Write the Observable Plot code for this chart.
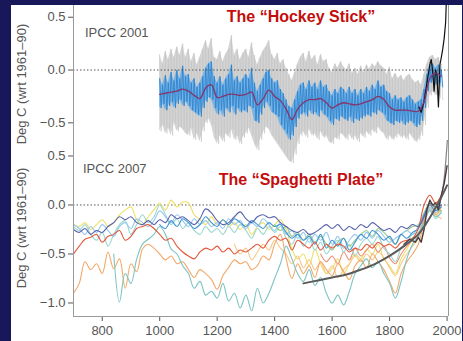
<!DOCTYPE html>
<html><head><meta charset="utf-8">
<script src="https://cdn.jsdelivr.net/npm/d3@7"></script>
<script src="https://cdn.jsdelivr.net/npm/@observablehq/plot@0.6"></script>
<style>
body{margin:0;background:#171759;}
#wrap{position:relative;width:463px;height:341px;overflow:hidden;background:#171759;font-family:"Liberation Sans",Arial,sans-serif;}
#panel{position:absolute;left:11px;top:5px;width:451px;height:336px;background:#fff;}
#bot{position:absolute;left:0;top:140px;}
#top{position:absolute;left:0;top:5px;}
.t{position:absolute;white-space:nowrap;}
.title{font-weight:bold;font-size:16px;color:#c40d0d;transform:translate(-50%,-50%);}
.ipcc{font-size:13px;color:#555;transform:translateY(-50%);}
.ylab{font-size:13px;color:#555;transform:translate(-50%,-50%) rotate(-90deg);}
</style></head>
<body>
<div id="wrap">
  <div id="panel"></div>
  <div id="bot"></div>
  <div id="top"></div>
  <div class="t title" style="left:301px;top:17px;">The “Hockey Stick”</div>
  <div class="t title" style="left:301px;top:180px;">The “Spaghetti Plate”</div>
  <div class="t ipcc" style="left:85px;top:32px;">IPCC 2001</div>
  <div class="t ipcc" style="left:83px;top:168px;">IPCC 2007</div>
  <div class="t ylab" style="left:21px;top:84px;">Deg C (wrt 1961–90)</div>
  <div class="t ylab" style="left:21px;top:228px;">Deg C (wrt 1961–90)</div>
</div>
<script>
// ---------- axis ticks ----------
const xTicks = [800, 1000, 1200, 1400, 1600, 1800, 2000];
const yTicksTop = [0.5, 0, -0.5];
const yTicksBottom = [0.5, 0, -0.5, -1.0];
const xDomain = [700, 2005];
const yDomainTop = [-0.904, 0.611];
const yDomainBottom = [-1.138, 0.658];

// ---------- IPCC 2001 (hockey stick), decadal 1000-1980 ----------
const hsYears = d3.range(1000, 1981, 10);
const grayHi = [0.15,0.06,0.18,0.10,0.20,0.12,0.22,0.14,0.25,0.12,
 0.20,0.08,0.16,0.05,0.12,0.20,0.28,0.20,0.30,0.12,
 0.10,0.18,0.08,0.15,0.20,0.33,0.14,0.20,0.10,0.16,
 0.20,0.12,0.26,0.14,0.05,0.12,0.18,0.22,0.28,0.15,
 0.10,0.16,0.06,0.10,0.02,-0.04,-0.10,-0.02,0.06,0.12,
 0.16,0.08,0.18,0.10,0.14,0.05,0.15,0.08,0.10,0.02,
 -0.02,0.06,0.02,0.08,0.03,0.0,0.06,-0.03,0.02,-0.04,
 0.04,-0.02,0.05,0.01,0.06,0.03,0.08,0.04,0.02,-0.04,
 0.03,-0.08,-0.03,-0.08,-0.05,-0.10,-0.06,-0.04,-0.09,-0.12,
 -0.10,-0.14,-0.04,0.06,0.12,0.14,0.10,0.12,0.06];
const grayLo = [-0.58,-0.52,-0.60,-0.55,-0.62,-0.50,-0.58,-0.54,-0.56,-0.60,
 -0.62,-0.55,-0.66,-0.60,-0.68,-0.58,-0.50,-0.46,-0.52,-0.64,
 -0.70,-0.62,-0.68,-0.60,-0.64,-0.56,-0.66,-0.62,-0.70,-0.64,
 -0.60,-0.55,-0.62,-0.70,-0.76,-0.66,-0.60,-0.54,-0.56,-0.62,
 -0.66,-0.70,-0.74,-0.78,-0.82,-0.86,-0.88,-0.80,-0.70,-0.62,
 -0.58,-0.64,-0.56,-0.62,-0.60,-0.66,-0.58,-0.64,-0.62,-0.68,
 -0.70,-0.64,-0.66,-0.60,-0.62,-0.66,-0.60,-0.66,-0.62,-0.68,
 -0.60,-0.64,-0.58,-0.62,-0.56,-0.60,-0.54,-0.58,-0.60,-0.66,
 -0.62,-0.66,-0.64,-0.60,-0.64,-0.62,-0.66,-0.60,-0.64,-0.68,
 -0.66,-0.62,-0.52,-0.36,-0.24,-0.20,-0.24,-0.22,-0.28];
const blueHi = [-0.08,-0.14,-0.05,-0.12,-0.02,-0.10,0.0,-0.08,0.04,-0.06,
 -0.04,-0.12,-0.08,-0.16,-0.12,-0.06,0.02,0.06,0.08,-0.06,
 -0.12,-0.06,-0.14,-0.08,-0.04,0.05,-0.10,-0.06,-0.12,-0.08,
 -0.04,-0.08,0.02,-0.12,-0.20,-0.14,-0.08,-0.02,0.0,-0.08,
 -0.12,-0.10,-0.18,-0.22,-0.28,-0.34,-0.36,-0.28,-0.20,-0.14,
 -0.12,-0.18,-0.10,-0.16,-0.12,-0.18,-0.10,-0.16,-0.14,-0.20,
 -0.24,-0.18,-0.22,-0.16,-0.18,-0.22,-0.16,-0.22,-0.18,-0.24,
 -0.18,-0.22,-0.16,-0.20,-0.14,-0.18,-0.10,-0.16,-0.14,-0.20,
 -0.22,-0.28,-0.24,-0.28,-0.26,-0.30,-0.26,-0.24,-0.28,-0.32,
 -0.30,-0.28,-0.18,-0.04,0.04,0.06,0.02,0.05,0.0];
const blueLo = [-0.36,-0.32,-0.38,-0.34,-0.30,-0.36,-0.32,-0.28,-0.34,-0.30,
 -0.34,-0.38,-0.40,-0.42,-0.44,-0.36,-0.30,-0.26,-0.28,-0.36,
 -0.42,-0.38,-0.44,-0.36,-0.40,-0.34,-0.42,-0.36,-0.40,-0.38,
 -0.40,-0.34,-0.36,-0.48,-0.50,-0.42,-0.36,-0.30,-0.34,-0.40,
 -0.42,-0.44,-0.52,-0.56,-0.60,-0.66,-0.62,-0.54,-0.46,-0.42,
 -0.40,-0.44,-0.38,-0.42,-0.40,-0.44,-0.38,-0.42,-0.44,-0.48,
 -0.52,-0.46,-0.48,-0.44,-0.46,-0.48,-0.44,-0.50,-0.46,-0.48,
 -0.46,-0.44,-0.42,-0.44,-0.40,-0.42,-0.38,-0.40,-0.42,-0.48,
 -0.50,-0.52,-0.48,-0.50,-0.48,-0.52,-0.50,-0.48,-0.50,-0.54,
 -0.52,-0.48,-0.36,-0.20,-0.12,-0.10,-0.14,-0.12,-0.16];
const smoothYears = d3.range(1000, 1981, 20);
const smoothVals = [-0.23,-0.22,-0.21,-0.20,-0.18,-0.20,-0.24,-0.27,-0.17,-0.14,
 -0.26,-0.25,-0.23,-0.23,-0.24,-0.23,-0.21,-0.33,-0.27,-0.19,
 -0.25,-0.29,-0.37,-0.47,-0.37,-0.31,-0.28,-0.28,-0.27,-0.31,
 -0.36,-0.33,-0.31,-0.32,-0.33,-0.32,-0.30,-0.28,-0.25,-0.28,
 -0.35,-0.38,-0.38,-0.38,-0.39,-0.39,-0.30,-0.08,-0.03,-0.06];
const instTopYears = [1902,1910,1920,1930,1940,1945,1950,1955,1960,1965,1970,1975,1980,1985,1990,1995,1998];
const instTopVals = [-0.35,-0.40,-0.30,-0.12,0.05,0.10,-0.02,-0.20,0.0,-0.05,-0.35,0.05,0.12,0.20,0.30,0.45,0.70];

// ---------- IPCC 2007 (spaghetti), 20-year steps ----------
const spaghettiNames = ["yellow","peach","orange","salmon","lightTeal","teal","green","lightBlue","blue","red","darkBlue"];
const spaghettiColors = ["#efdf66","#f6c888","#f2a868","#ee9077","#9ad8d0","#7cc4c2","#94c98a","#98c8ec","#3f95d8","#e2583a","#5662aa"];
const spaghettiStarts = [700,1260,700,1560,700,840,1400,700,1000,700,700];
const yellow = [-0.20,-0.22,-0.18,-0.25,-0.20,-0.15,-0.22,-0.18,-0.10,-0.05,
 -0.02,-0.15,-0.20,-0.12,-0.05,0.02,-0.05,0.05,-0.02,0.03,
 0.02,-0.10,-0.15,-0.20,-0.12,-0.20,-0.15,-0.22,-0.18,-0.25,
 -0.20,-0.30,-0.22,-0.18,-0.25,-0.20,-0.15,-0.25,-0.45,-0.55,
 -0.50,-0.62,-0.45,-0.60,-0.70,-0.65,-0.55,-0.70,-0.60,-0.50,
 -0.55,-0.45,-0.50,-0.40,-0.55,-0.62,-0.70,-0.55,-0.45,-0.35,
 -0.30,-0.15,-0.05,-0.10,-0.05];
const peach = [-0.40,-0.50,-0.44,-0.56,-0.48,-0.40,-0.46,-0.36,-0.44,-0.50,
 -0.60,-0.52,-0.64,-0.56,-0.66,-0.58,-0.70,-0.62,-0.74,-0.66,
 -0.60,-0.52,-0.58,-0.50,-0.56,-0.48,-0.54,-0.64,-0.72,-0.60,
 -0.50,-0.42,-0.34,-0.16,-0.04,-0.10,-0.14];
const orange = [-0.90,-0.80,-0.58,-0.66,-0.60,-0.70,-0.48,-0.65,-0.55,-0.85,
 -0.60,-0.68,-0.45,-0.40,-0.44,-0.50,-0.56,-0.52,-0.60,-0.58,
 -0.66,-0.74,-0.66,-0.70,-0.76,-0.86,-0.72,-0.64,-0.56,-0.60,
 -0.58,-0.66,-0.62,-0.52,-0.56,-0.40,-0.30,-0.55,-0.75,-0.60,
 -0.70,-0.62,-0.74,-0.58,-0.66,-0.72,-0.60,-0.68,-0.76,-0.62,
 -0.56,-0.64,-0.50,-0.58,-0.66,-0.78,-0.90,-0.70,-0.58,-0.50,
 -0.40,-0.18,-0.04,-0.10,-0.02];
const salmon = [-0.50,-0.58,-0.52,-0.60,-0.48,-0.56,-0.44,-0.52,-0.46,-0.40,
 -0.48,-0.42,-0.54,-0.60,-0.50,-0.42,-0.36,-0.30,-0.14,-0.02,-0.08];
const lightTeal = [-0.22,-0.26,-0.20,-0.30,-0.36,-0.28,-0.42,-0.30,-0.20,-0.16,
 -0.30,-0.20,-0.10,-0.18,-0.12,0.00,-0.10,-0.20,-0.14,-0.24,
 -0.18,-0.26,-0.30,-0.22,-0.28,-0.24,-0.30,-0.22,-0.28,-0.20,
 -0.26,-0.34,-0.24,-0.30,-0.22,-0.28,-0.22,-0.34,-0.40,-0.30,
 -0.42,-0.34,-0.46,-0.38,-0.50,-0.42,-0.36,-0.48,-0.40,-0.52,
 -0.40,-0.34,-0.40,-0.32,-0.44,-0.50,-0.58,-0.44,-0.38,-0.30,
 -0.28,-0.10,-0.02,-0.14,-0.06];
const teal = [-0.50,-0.99,-0.70,-0.80,-0.55,-0.40,-0.35,-0.30,-0.22,-0.30,
 -0.45,-0.50,-0.62,-0.70,-0.85,-0.78,-0.92,-0.88,-0.95,-0.80,
 -0.98,-0.90,-1.05,-0.92,-1.08,-0.85,-1.00,-0.90,-0.75,-0.60,
 -0.42,-0.55,-0.70,-0.78,-0.66,-0.82,-0.74,-0.90,-1.00,-0.92,
 -1.02,-0.88,-0.70,-0.62,-0.55,-0.64,-0.58,-0.70,-0.80,-0.95,
 -0.78,-0.55,-0.40,-0.32,-0.18,-0.06,-0.12,-0.08];
const green = [-0.20,-0.26,-0.22,-0.32,-0.28,-0.36,-0.30,-0.38,-0.32,-0.40,
 -0.46,-0.38,-0.34,-0.42,-0.36,-0.30,-0.26,-0.32,-0.24,-0.28,
 -0.34,-0.40,-0.30,-0.26,-0.22,-0.20,-0.08,0.02,-0.04,-0.06];
const lightBlue = [-0.20,-0.24,-0.30,-0.22,-0.28,-0.20,-0.26,-0.32,-0.22,-0.18,
 -0.24,-0.14,-0.18,-0.22,-0.16,-0.06,-0.12,-0.18,-0.10,-0.16,
 -0.22,-0.14,-0.20,-0.16,-0.22,-0.18,-0.24,-0.14,-0.20,-0.16,
 -0.24,-0.18,-0.22,-0.14,-0.20,-0.26,-0.18,-0.30,-0.26,-0.34,
 -0.28,-0.38,-0.30,-0.36,-0.28,-0.40,-0.32,-0.44,-0.36,-0.30,
 -0.36,-0.28,-0.34,-0.26,-0.32,-0.38,-0.34,-0.30,-0.26,-0.30,
 -0.22,-0.12,-0.04,-0.08,0.00];
const blue = [-0.20,-0.24,-0.16,-0.22,-0.14,-0.18,-0.24,-0.20,-0.12,-0.18,
 -0.22,-0.15,-0.20,-0.14,-0.18,-0.22,-0.16,-0.20,-0.24,-0.18,
 -0.22,-0.20,-0.28,-0.34,-0.30,-0.36,-0.32,-0.40,-0.30,-0.44,
 -0.36,-0.42,-0.34,-0.46,-0.38,-0.30,-0.34,-0.26,-0.30,-0.36,
 -0.32,-0.40,-0.30,-0.34,-0.28,-0.24,-0.10,0.00,-0.06,-0.02];
const red = [-0.50,-0.42,-0.35,-0.33,-0.30,-0.38,-0.32,-0.30,-0.26,-0.36,
 -0.32,-0.24,-0.22,-0.20,-0.24,-0.30,-0.36,-0.34,-0.42,-0.48,
 -0.52,-0.55,-0.48,-0.44,-0.46,-0.42,-0.48,-0.44,-0.50,-0.46,
 -0.48,-0.44,-0.40,-0.44,-0.36,-0.32,-0.36,-0.34,-0.46,-0.36,
 -0.40,-0.44,-0.38,-0.46,-0.40,-0.44,-0.40,-0.42,-0.48,-0.44,
 -0.46,-0.40,-0.44,-0.38,-0.42,-0.40,-0.44,-0.38,-0.36,-0.34,
 -0.24,0.00,0.10,0.02,0.10];
const darkBlue = [-0.25,-0.28,-0.24,-0.30,-0.26,-0.28,-0.22,-0.18,-0.12,-0.15,
 -0.12,-0.18,-0.20,-0.16,-0.20,-0.15,-0.18,-0.10,-0.14,-0.12,
 -0.16,-0.20,-0.14,-0.04,-0.08,-0.16,-0.20,-0.18,-0.12,-0.07,
 -0.14,-0.18,-0.12,-0.10,-0.13,-0.12,-0.18,-0.22,-0.26,-0.28,
 -0.25,-0.30,-0.28,-0.24,-0.20,-0.24,-0.20,-0.26,-0.22,-0.25,
 -0.20,-0.23,-0.18,-0.22,-0.26,-0.24,-0.28,-0.22,-0.24,-0.20,
 -0.22,-0.12,0.02,-0.02,0.00];
const spaghettiValues = [yellow, peach, orange, salmon, lightTeal, teal, green, lightBlue, blue, red, darkBlue];

const boreholeYears = [1500,1550,1600,1650,1700,1750,1800,1850,1900,1925,1950,1975,2000];
const boreholeVals = [-0.80,-0.77,-0.74,-0.71,-0.66,-0.60,-0.52,-0.42,-0.30,-0.20,-0.08,0.05,0.20];
const instBotYears = [1850,1870,1890,1900,1910,1920,1930,1940,1950,1960,1970,1980,1990,2000];
const instBotVals = [-0.40,-0.35,-0.38,-0.33,-0.38,-0.25,-0.05,0.05,0.0,0.02,-0.05,0.10,0.22,0.40];
const instGrayYears = [1940,1960,1975,1985,1992,1997,2002];
const instGrayVals = [0.0,-0.02,0.02,0.15,0.32,0.50,0.70];

// ---------- build tables ----------
const hsTable = hsYears.map((y, i) => ({year: y, gHi: grayHi[i], gLo: grayLo[i], bHi: blueHi[i], bLo: blueLo[i]}));
const blueZig = hsYears.flatMap((y, i) => [{year: y, v: blueHi[i]}, {year: y + 5, v: blueLo[i]}]);
const grayZig = hsYears.flatMap((y, i) => [{year: y, v: grayHi[i]}, {year: y + 5, v: grayLo[i]}]);
const smoothTable = smoothYears.map((y, i) => ({year: y, v: smoothVals[i]}));
const instTopTable = instTopYears.map((y, i) => ({year: y, v: instTopVals[i]}));
const pairs = (ys, vs) => ys.map((y, i) => ({year: y, v: vs[i]}));

const common = {
  width: 463,
  marginLeft: 73,
  marginRight: 15,
  style: {background: "transparent", fontSize: "13px", fontFamily: "'Liberation Sans', Arial, sans-serif", color: "#555"}
};
const axisGray = "#9a9a9a";

const topPlot = Plot.plot({
  ...common,
  height: 160,
  marginTop: 0,
  marginBottom: 0,
  x: {domain: xDomain, axis: null},
  y: {domain: yDomainTop, ticks: yTicksTop, tickFormat: d3.format(".1f"), tickSize: 5, tickPadding: 3, label: null},
  marks: [
    Plot.areaY(hsTable, {x: "year", y1: "gLo", y2: "gHi", fill: "#d4d4d4"}),
    Plot.line(grayZig, {x: "year", y: "v", stroke: "#c4c4c4", strokeWidth: 0.6}),
    Plot.areaY(hsTable, {x: "year", y1: "bLo", y2: "bHi", fill: "#78b3e4"}),
    Plot.line(blueZig, {x: "year", y: "v", stroke: "#2f84cf", strokeWidth: 0.9}),
    Plot.line(instTopTable, {x: "year", y: "v", stroke: "#111", strokeWidth: 1.2}),
    Plot.line(smoothTable, {x: "year", y: "v", stroke: "#84356b", strokeWidth: 1.3, curve: "catmull-rom"}),
    Plot.ruleY([0], {stroke: "#555", strokeDasharray: "1.5,2", strokeWidth: 1}),
    Plot.ruleX([xDomain[0]], {stroke: axisGray}),
    Plot.ruleX([xDomain[1]], {stroke: axisGray})
  ]
});

const spaghettiMarks = spaghettiValues.map((vals, k) =>
  Plot.line(vals.map((v, i) => ({year: spaghettiStarts[k] + 20 * i, v})),
    {x: "year", y: "v", stroke: spaghettiColors[k], strokeWidth: 1.1, curve: "catmull-rom"}));

const botPlot = Plot.plot({
  ...common,
  height: 201,
  marginTop: 0,
  marginBottom: 25,
  x: {domain: xDomain, ticks: xTicks, tickFormat: d3.format("d"), tickSize: 5, tickPadding: 4, label: null},
  y: {domain: yDomainBottom, ticks: yTicksBottom, tickFormat: d3.format(".1f"), tickSize: 5, tickPadding: 3, label: null},
  marks: [
    Plot.ruleY([0], {stroke: "#555", strokeDasharray: "1.5,2", strokeWidth: 1}),
    ...spaghettiMarks,
    Plot.line(pairs(instGrayYears, instGrayVals), {x: "year", y: "v", stroke: "#8a8a8a", strokeWidth: 1.3}),
    Plot.line(pairs(instBotYears, instBotVals), {x: "year", y: "v", stroke: "#4a3a3a", strokeWidth: 1.4}),
    Plot.line(pairs(boreholeYears, boreholeVals), {x: "year", y: "v", stroke: "#5a5a5a", strokeWidth: 2, curve: "catmull-rom"}),
    Plot.ruleX([xDomain[0]], {stroke: axisGray}),
    Plot.ruleX([xDomain[1]], {stroke: axisGray}),
    Plot.ruleY([yDomainBottom[0]], {stroke: axisGray})
  ]
});

document.getElementById("top").appendChild(topPlot);
document.getElementById("bot").appendChild(botPlot);
</script>
</body></html>
